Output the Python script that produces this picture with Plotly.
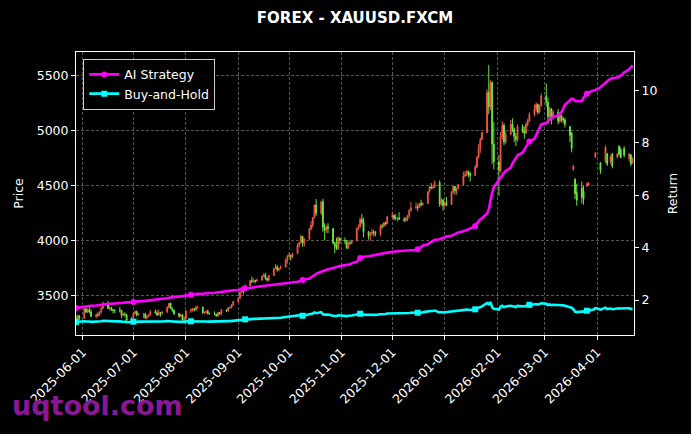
import pandas as pd
import plotly.graph_objects as go

title_text = "FOREX - XAUUSD.FXCM"
first_date = "2025-05-28"
x_range = ["2025-05-28 02:00", "2026-04-22 20:00"]
month_ticks_start = "2025-06-01"

# Daily OHLC (business days from 2025-05-28)
opens = [
    3300, 3290, 3318,
    3292, 3381, 3352, 3373, 3352,
    3311, 3326, 3322, 3355, 3387,
    3432, 3385, 3388, 3370, 3368,
    3368, 3368, 3323, 3332, 3328,
    3274,
    3303, 3338, 3357, 3326,
    3336, 3336, 3301, 3313, 3325,
    3355, 3343, 3324, 3347, 3339,
    3350, 3397, 3431, 3387, 3368,
    3337, 3314, 3326, 3275,
    3289,
    3363, 3373, 3380, 3369, 3396,
    3398, 3342, 3348, 3356, 3336,
    3336, 3332, 3315, 3347, 3339,
    3372, 3366, 3393, 3397, 3416,
    3448, 3477, 3533, 3578, 3545,
    3587, 3636, 3627, 3640, 3634,
    3643, 3679, 3690, 3660, 3644,
    3685, 3746, 3763, 3736, 3749,
    3760, 3833,
    3859, 3866, 3857,
    3886, 3960, 3985, 4040, 3976,
    4017, 4110, 4142, 4209, 4326,
    4252, 4356, 4125, 4095, 4126,
    4112, 3982, 3953, 3931, 4025,
    4002, 4000, 3932, 3980, 3977,
    4000, 4115, 4128, 4195, 4171,
    4083, 4045, 4066, 4078, 4077,
    4064, 4135, 4131, 4164, 4155,
    4218, 4231, 4205, 4205, 4208,
    4197, 4188, 4208, 4229, 4279,
    4300, 4305, 4302, 4340, 4330,
    4340, 4445, 4490, 4480, 4485,
    4530, 4333, 4372,
    4320, 4345,
    4330, 4445, 4495, 4455, 4478,
    4510, 4590, 4600, 4630, 4615,
    4595, 4670, 4760, 4840, 4920,
    4985, 5350, 5220, 5440, 4880,
    4720, 4640, 4950, 5050, 4900,
    4970, 5060, 5020, 4950, 4920,
    5040, 5000, 4980, 5060, 5090,
    5150, 5200, 5240, 5170, 5230,
    5320, 5260, 5130, 5200, 5120,
    5170, 5090, 5140, 5110, 5100,
    5040, 4980, 4645, 4560, 4440,
    4480, 4450, 4400, 4500, 4505,
    4600, 4760,
    4790, 4750, 4710,
    4720, 4790, 4720, 4720, 4790,
    4760, 4860, 4830, 4790, 4840,
    4750, 4780, 4720,
]
highs = [
    3325, 3330, 3325,
    3392, 3392, 3385, 3403, 3375,
    3340, 3349, 3360, 3398, 3445,
    3452, 3405, 3400, 3380, 3375,
    3398, 3370, 3347, 3350, 3330,
    3306,
    3350, 3365, 3365, 3345,
    3345, 3345, 3325, 3330, 3369,
    3375, 3366, 3377, 3352, 3361,
    3402, 3433, 3439, 3393, 3373,
    3345, 3334, 3334, 3315,
    3363,
    3385, 3390, 3390, 3409, 3409,
    3400, 3358, 3369, 3375, 3346,
    3358, 3335, 3350, 3351, 3378,
    3376, 3394, 3398, 3423, 3454,
    3489, 3540, 3578, 3566, 3600,
    3646, 3674, 3657, 3645, 3655,
    3684, 3703, 3707, 3664, 3686,
    3749, 3791, 3779, 3750, 3776,
    3835, 3872,
    3895, 3875, 3890,
    3977, 3990, 4059, 4045, 4022,
    4116, 4179, 4218, 4330, 4380,
    4359, 4381, 4160, 4145, 4160,
    4115, 3990, 4030, 4045, 4030,
    4030, 4005, 3990, 4005, 4010,
    4118, 4148, 4210, 4245, 4210,
    4090, 4080, 4110, 4100, 4090,
    4150, 4155, 4170, 4175, 4225,
    4265, 4240, 4240, 4215, 4260,
    4215, 4215, 4235, 4285, 4355,
    4350, 4330, 4345, 4375, 4350,
    4450, 4497, 4525, 4500, 4550,
    4550, 4390, 4380,
    4360, 4400,
    4450, 4500, 4500, 4485, 4520,
    4630, 4635, 4645, 4640, 4625,
    4690, 4770, 4880, 4940, 4990,
    5380, 5600, 5460, 5450, 5080,
    4780, 4990, 5090, 5070, 5000,
    5100, 5115, 5030, 4980, 5060,
    5060, 5040, 5080, 5110, 5170,
    5240, 5260, 5250, 5240, 5340,
    5430, 5300, 5220, 5210, 5190,
    5200, 5160, 5150, 5125, 5120,
    5040, 4990, 4690, 4570, 4520,
    4540, 4500, 4460, 4530, 4535,
    4660, 4805,
    4800, 4760, 4715,
    4870, 4800, 4750, 4780, 4800,
    4800, 4870, 4850, 4810, 4860,
    4800, 4790, 4760,
]
lows = [
    3275, 3245, 3280,
    3290, 3343, 3345, 3340, 3307,
    3294, 3310, 3318, 3340, 3378,
    3380, 3366, 3362, 3340, 3340,
    3347, 3295, 3312, 3310, 3255,
    3248,
    3300, 3330, 3311, 3322,
    3296, 3287, 3283, 3310, 3320,
    3340, 3320, 3320, 3310, 3331,
    3345, 3385, 3381, 3351, 3325,
    3301, 3308, 3268, 3268,
    3281,
    3346, 3355, 3358, 3368, 3381,
    3341, 3332, 3345, 3330, 3331,
    3323, 3311, 3311, 3325, 3321,
    3351, 3352, 3378, 3385, 3405,
    3436, 3475, 3529, 3511, 3539,
    3586, 3619, 3620, 3613, 3630,
    3635, 3674, 3646, 3628, 3633,
    3684, 3743, 3718, 3722, 3740,
    3759, 3793,
    3850, 3820, 3840,
    3884, 3940, 3980, 3945, 3947,
    4007, 4095, 4120, 4207, 4227,
    4233, 4082, 4004, 4070, 4070,
    3970, 3886, 3915, 3915, 3970,
    3970, 3930, 3932, 3965, 3970,
    3995, 4100, 4120, 4150, 4032,
    4010, 4000, 4050, 4040, 4040,
    4040, 4110, 4125, 4140, 4150,
    4210, 4185, 4190, 4175, 4190,
    4170, 4170, 4180, 4200, 4265,
    4290, 4270, 4300, 4310, 4320,
    4338, 4440, 4470, 4470, 4480,
    4310, 4320, 4275,
    4310, 4315,
    4330, 4430, 4420, 4420, 4470,
    4505, 4580, 4590, 4580, 4540,
    4590, 4660, 4750, 4800, 4920,
    4980, 5150, 5190, 4700, 4650,
    4410, 4620, 4920, 4870, 4880,
    4960, 4990, 4900, 4860, 4900,
    4980, 4930, 4970, 5040, 5080,
    5130, 5170, 5150, 5160, 5220,
    5220, 5060, 5110, 5060, 5100,
    5060, 5070, 5080, 5070, 5030,
    4900, 4805, 4640, 4380, 4320,
    4340, 4330, 4390, 4490, 4500,
    4590, 4755,
    4750, 4690, 4610,
    4710, 4680, 4710, 4700, 4660,
    4750, 4770, 4750, 4780, 4760,
    4720, 4680, 4700,
]
closes = [
    3290, 3318, 3292,
    3381, 3352, 3373, 3352, 3311,
    3326, 3322, 3355, 3387, 3432,
    3385, 3388, 3370, 3368, 3368,
    3368, 3323, 3332, 3328, 3274,
    3303,
    3338, 3357, 3326, 3336,
    3336, 3301, 3313, 3325, 3355,
    3343, 3324, 3347, 3339, 3350,
    3397, 3431, 3387, 3368, 3337,
    3314, 3326, 3275, 3289,
    3363,
    3373, 3380, 3369, 3396, 3398,
    3342, 3348, 3356, 3336, 3336,
    3332, 3315, 3347, 3339, 3372,
    3366, 3393, 3397, 3416, 3448,
    3477, 3533, 3578, 3545, 3587,
    3636, 3627, 3640, 3634, 3643,
    3679, 3690, 3660, 3644, 3685,
    3746, 3763, 3736, 3749, 3760,
    3833, 3859,
    3866, 3857, 3886,
    3960, 3985, 4040, 3976, 4017,
    4110, 4142, 4209, 4326, 4252,
    4356, 4125, 4095, 4126, 4112,
    3982, 3953, 3931, 4025, 4002,
    4000, 3932, 3980, 3977, 4000,
    4115, 4128, 4195, 4171, 4083,
    4045, 4066, 4078, 4077, 4064,
    4135, 4131, 4164, 4155, 4218,
    4231, 4205, 4205, 4208, 4197,
    4188, 4208, 4229, 4279, 4300,
    4305, 4302, 4340, 4330, 4340,
    4445, 4490, 4480, 4485, 4530,
    4333, 4372, 4320,
    4345, 4330,
    4445, 4495, 4455, 4478, 4510,
    4590, 4600, 4630, 4615, 4595,
    4670, 4760, 4840, 4920, 4985,
    5350, 5220, 5440, 4880, 4720,
    4640, 4950, 5050, 4900, 4970,
    5060, 5020, 4950, 4920, 5040,
    5000, 4980, 5060, 5090, 5150,
    5200, 5240, 5170, 5230, 5320,
    5260, 5130, 5200, 5120, 5170,
    5090, 5140, 5110, 5100, 5060,
    4960, 4840, 4680, 4430, 4370,
    4400, 4380, 4450, 4520, 4530,
    4650, 4800,
    4760, 4700, 4640,
    4850, 4700, 4740, 4760, 4680,
    4790, 4790, 4760, 4800, 4780,
    4790, 4700, 4740,
]
# days with no candle drawn in the reference
no_candle_dates = ["2026-03-25", "2026-03-30", "2026-04-01", "2026-04-02",
                   "2026-04-08", "2026-04-16"]

# AI strategy cumulative return (right axis)
ai_strategy = [
    1.70, 1.71, 1.72,
    1.74, 1.75, 1.76, 1.77, 1.78,
    1.79, 1.80, 1.81, 1.82, 1.84,
    1.85, 1.86, 1.86, 1.87, 1.88,
    1.89, 1.89, 1.90, 1.91, 1.91,
    1.92,
    1.93, 1.94, 1.94, 1.95,
    1.96, 1.97, 1.98, 1.99, 2.00,
    2.01, 2.02, 2.03, 2.04, 2.05,
    2.07, 2.09, 2.10, 2.11, 2.12,
    2.13, 2.14, 2.15, 2.17,
    2.19,
    2.20, 2.21, 2.22, 2.23, 2.24,
    2.24, 2.25, 2.26, 2.26, 2.27,
    2.28, 2.29, 2.30, 2.31, 2.32,
    2.33, 2.34, 2.35, 2.36, 2.37,
    2.38, 2.40, 2.42, 2.43, 2.45,
    2.46, 2.48, 2.49, 2.50, 2.51,
    2.53, 2.54, 2.55, 2.56, 2.57,
    2.59, 2.60, 2.61, 2.62, 2.63,
    2.64, 2.65,
    2.66, 2.67, 2.68,
    2.70, 2.72, 2.75, 2.76, 2.78,
    2.82, 2.86, 2.90, 2.97, 3.00,
    3.08, 3.11, 3.13, 3.15, 3.17,
    3.22, 3.25, 3.27, 3.28, 3.30,
    3.32, 3.33, 3.34, 3.36, 3.40,
    3.46, 3.52, 3.60, 3.63, 3.65,
    3.67, 3.68, 3.70, 3.71, 3.73,
    3.75, 3.77, 3.79, 3.80, 3.82,
    3.83, 3.84, 3.85, 3.86, 3.87,
    3.88, 3.88, 3.89, 3.90, 3.90,
    3.91, 3.94, 3.98, 4.02, 4.08,
    4.12, 4.18, 4.22, 4.26, 4.29,
    4.32, 4.35, 4.38,
    4.40, 4.42,
    4.45, 4.48, 4.50, 4.54, 4.58,
    4.62, 4.65, 4.68, 4.71, 4.74,
    4.82, 4.92, 5.02, 5.08, 5.12,
    5.30, 5.45, 5.80, 6.10, 6.30,
    6.60, 6.70, 6.78, 6.85, 6.92,
    7.05, 7.20, 7.30, 7.40, 7.52,
    7.62, 7.72, 7.85, 7.95, 8.05,
    8.15, 8.30, 8.45, 8.58, 8.70,
    8.75, 8.80, 8.88, 8.95, 8.98,
    9.05, 9.12, 9.17, 9.30, 9.45,
    9.62, 9.68, 9.66, 9.60, 9.58,
    9.58, 9.72, 9.82, 9.87, 9.92,
    9.98, 10.02,
    10.04, 10.06, 10.12,
    10.30, 10.35, 10.40, 10.43, 10.46,
    10.49, 10.51, 10.56, 10.62, 10.68,
    10.80, 10.88, 10.95,
]
bh_start_return = 1.16

price_ticks = [3500, 4000, 4500, 5000, 5500]
return_ticks = [2, 4, 6, 8, 10]

assert len(opens) == len(highs) == len(lows) == len(closes) == len(ai_strategy)

n = len(closes)
dates = pd.bdate_range(first_date, periods=n)
buy_hold = [c / closes[0] * bh_start_return for c in closes]

skip = set(pd.to_datetime(no_candle_dates))
def masked(arr):
    return [None if d in skip else v for d, v in zip(dates, arr)]

UP = "rgba(245,88,72,0.95)"
DOWN = "rgba(110,236,70,0.95)"
MAG = "#ff00ff"
CYA = "#00ffff"
FONT = "DejaVu Sans"
MARK_EVERY = 24
mk = list(range(0, n, MARK_EVERY))

fig = go.Figure()
fig.add_trace(go.Candlestick(
    x=dates, open=masked(opens), high=masked(highs), low=masked(lows), close=masked(closes),
    increasing=dict(line=dict(color=UP, width=1), fillcolor=UP),
    decreasing=dict(line=dict(color=DOWN, width=1), fillcolor=DOWN),
    whiskerwidth=0, showlegend=False, hoverinfo="skip", yaxis="y"))

for name, vals, color, sym in [("AI Strategy", ai_strategy, MAG, "circle"),
                               ("Buy-and-Hold", buy_hold, CYA, "square")]:
    fig.add_trace(go.Scatter(x=dates, y=vals, mode="lines", yaxis="y2",
                             line=dict(color=color, width=2.6), showlegend=False))
    fig.add_trace(go.Scatter(x=[dates[i] for i in mk], y=[vals[i] for i in mk],
                             mode="markers", yaxis="y2", showlegend=False,
                             marker=dict(symbol=sym, size=6, color=color)))
    fig.add_trace(go.Scatter(x=[None], y=[None], mode="lines+markers", yaxis="y2",
                             name=name, line=dict(color=color, width=2.6),
                             marker=dict(symbol=sym, size=6, color=color)))

GRID = "#555555"
axis_common = dict(showline=True, linecolor="white", linewidth=1, ticks="outside",
                   ticklen=4, tickcolor="white", zeroline=False,
                   tickfont=dict(family=FONT, size=12.5, color="white"))

fig.update_layout(
    width=691, height=434,
    paper_bgcolor="black", plot_bgcolor="black",
    margin=dict(l=76, r=57, t=52, b=99),
    font=dict(family=FONT, color="white", size=12.5),
    title=dict(text="<b>" + title_text + "</b>", x=0.5, xref="paper", xanchor="center",
               y=1 - 18 / 434, yanchor="middle",
               font=dict(family=FONT, size=15, color="white")),
    xaxis=dict(type="date", range=x_range, tick0=month_ticks_start, dtick="M1",
               tickformat="%Y-%m-%d", tickangle=-45, mirror=True,
               showgrid=True, gridcolor=GRID, gridwidth=0.6, griddash="3px,2px",
               rangeslider=dict(visible=False), **axis_common),
    yaxis=dict(range=[3143, 5718], tickvals=price_ticks, mirror=True,
               showgrid=True, gridcolor=GRID, gridwidth=0.6, griddash="3px,2px",
               title=dict(text="Price", standoff=10,
                          font=dict(family=FONT, size=12.5, color="white")),
               **axis_common),
    yaxis2=dict(overlaying="y", side="right", anchor="x", range=[0.667, 11.46],
                tickvals=return_ticks, showgrid=False,
                title=dict(text="Return", standoff=11,
                           font=dict(family=FONT, size=12.5, color="white")),
                **axis_common),
    legend=dict(x=0.013, y=0.976, xanchor="left", yanchor="top",
                bgcolor="rgba(0,0,0,0.85)", bordercolor="#cccccc", borderwidth=1,
                font=dict(family=FONT, size=12.5, color="white"), tracegroupgap=2),
    annotations=[dict(text="<b>uqtool.com</b>", xref="paper", yref="paper",
                      x=-0.118, y=-0.2496, xanchor="left", yanchor="middle",
                      showarrow=False,
                      font=dict(family=FONT, size=27, color="#8a1896"))],
)

fig.write_html("out.html", config={"displayModeBar": False},
               post_script="document.body.style.margin='0';document.body.style.overflow='hidden';")
